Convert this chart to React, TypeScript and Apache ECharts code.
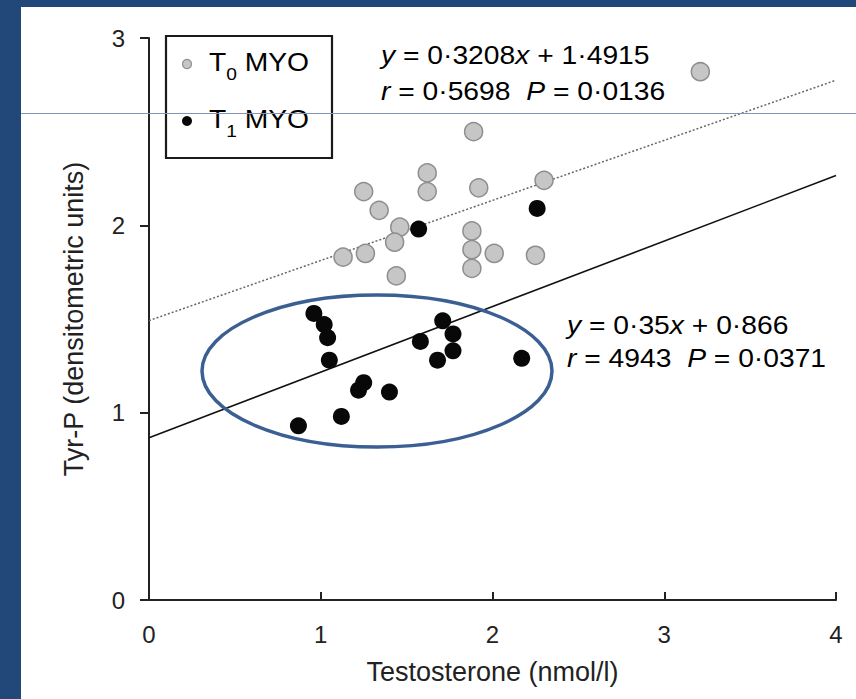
import React, { useEffect, useRef } from "react";
import * as echarts from "echarts";

// T0 MYO (grey) points
const t0X = [1.25, 1.62, 1.62, 1.92, 2.30, 1.34, 1.46, 1.43, 1.13, 1.26, 1.44, 1.88, 1.88, 2.01, 1.88, 2.25, 1.89, 3.21];
const t0Y = [2.18, 2.28, 2.18, 2.20, 2.24, 2.08, 1.99, 1.91, 1.83, 1.85, 1.73, 1.97, 1.87, 1.85, 1.77, 1.84, 2.50, 2.82];
// T1 MYO (black) points
const t1X = [1.57, 2.26, 0.96, 1.02, 1.04, 1.05, 1.71, 1.77, 1.77, 1.58, 1.68, 2.17, 1.25, 1.22, 1.40, 1.12, 0.87];
const t1Y = [1.98, 2.09, 1.53, 1.47, 1.40, 1.28, 1.49, 1.42, 1.33, 1.38, 1.28, 1.29, 1.16, 1.12, 1.11, 0.98, 0.93];
// regression fits
const fitSlopes = [0.3208, 0.35];
const fitIntercepts = [1.4915, 0.866];
const fitRange = [0, 4];
const xTicks = [0, 1, 2, 3, 4];
const yTicks = [0, 1, 2, 3];

const FONT = "Liberation Sans, Arial, sans-serif";
const BLUE = "#214878";

export default function App() {
  const ref = useRef<HTMLDivElement>(null);
  useEffect(() => {
    if (!ref.current) return;
    const chart = echarts.init(ref.current, undefined, { renderer: "svg" });
    const fitLine = (i: number) => fitRange.map((x) => [x, fitSlopes[i] * x + fitIntercepts[i]]);
    const rich = {
      n: { fontFamily: FONT, fontSize: 25, color: "#222" },
      i: { fontFamily: FONT, fontSize: 25, fontStyle: "italic", color: "#222" },
      s: { fontFamily: FONT, fontSize: 17, color: "#222", padding: [22, 0, 0, 0] },
    };
    const ann = (x: number, y: number, text: string) => ({
      type: "text", x, y, z: 51, scaleX: 1.13,
      style: { text, rich, verticalAlign: "middle", align: "left" },
    });
    chart.setOption({
      animation: false,
      backgroundColor: "#ffffff",
      grid: { left: 149, right: 20, top: 38, bottom: 99 },
      xAxis: {
        type: "value",
        min: xTicks[0],
        max: xTicks[xTicks.length - 1],
        interval: 1,
        name: "Testosterone (nmol/l)",
        nameLocation: "middle",
        nameGap: 58,
        nameTextStyle: { fontFamily: FONT, fontSize: 27, color: "#222" },
        axisLine: { show: true, onZero: false, lineStyle: { color: "#222", width: 2 } },
        axisTick: { show: true, inside: true, length: 8, lineStyle: { color: "#222", width: 2 } },
        axisLabel: { fontFamily: FONT, fontSize: 24, color: "#222", margin: 22 },
        splitLine: { show: false },
      },
      yAxis: {
        type: "value",
        min: yTicks[0],
        max: yTicks[yTicks.length - 1],
        interval: 1,
        name: "Tyr-P (densitometric units)",
        nameLocation: "middle",
        nameGap: 62,
        nameTextStyle: { fontFamily: FONT, fontSize: 27, color: "#222" },
        axisLine: { show: true, lineStyle: { color: "#222", width: 2 } },
        axisTick: { show: true, inside: false, length: 9, lineStyle: { color: "#222", width: 2 } },
        axisLabel: { fontFamily: FONT, fontSize: 24, color: "#222", margin: 24 },
        splitLine: { show: false },
      },
      series: [
        {
          type: "line",
          data: fitLine(0),
          symbol: "none",
          lineStyle: { color: "#666", width: 1.5, type: [2, 2] },
          z: 1,
        },
        {
          type: "line",
          data: fitLine(1),
          symbol: "none",
          lineStyle: { color: "#111", width: 1.6 },
          z: 1,
        },
        {
          name: "T0 MYO",
          type: "scatter",
          data: t0X.map((x, i) => [x, t0Y[i]]),
          symbolSize: 18,
          itemStyle: { color: "#c6c6c6", borderColor: "#8e8e8e", borderWidth: 1.5, opacity: 1 },
          z: 3,
        },
        {
          name: "T1 MYO",
          type: "scatter",
          data: t1X.map((x, i) => [x, t1Y[i]]),
          symbolSize: 17,
          itemStyle: { color: "#080808", opacity: 1 },
          z: 4,
        },
      ],
      graphic: [
        { type: "rect", shape: { x: 0, y: 0, width: 856, height: 7 }, style: { fill: BLUE }, z: 100 },
        { type: "rect", shape: { x: 0, y: 0, width: 21, height: 699 }, style: { fill: BLUE }, z: 100 },
        // legend box
        { type: "rect", shape: { x: 166, y: 36, width: 166, height: 122 }, style: { fill: "#fff", stroke: "#1a1a1a", lineWidth: 2.2 }, z: 50 },
        { type: "circle", shape: { cx: 187, cy: 64, r: 4.5 }, style: { fill: "#c6c6c6", stroke: "#8e8e8e", lineWidth: 1.2 }, z: 51 },
        { type: "circle", shape: { cx: 187, cy: 121, r: 5 }, style: { fill: "#080808" }, z: 51 },
        ann(209, 63, "{n|T}{s|0}{n| MYO}"),
        ann(209, 120, "{n|T}{s|1}{n| MYO}"),
        // annotations
        ann(381, 56, "{i|y}{n| = 0·3208}{i|x}{n| + 1·4915}"),
        ann(381, 92, "{i|r}{n| = 0·5698  }{i|P}{n| = 0·0136}"),
        ann(567, 326, "{i|y}{n| = 0·35}{i|x}{n| + 0·866}"),
        ann(567, 359, "{i|r}{n| = 4943  }{i|P}{n| = 0·0371}"),
        // highlight ellipse
        {
          type: "ellipse", shape: { cx: 377, cy: 371, rx: 175, ry: 76 },
          style: { fill: "none", stroke: "#3b5f93", lineWidth: 3.5 }, z: 60,
        },
        // thin scan artefact line
        {
          type: "line", shape: { x1: 21, y1: 113.5, x2: 856, y2: 113.5 },
          style: { stroke: "#8296b6", lineWidth: 1 }, z: 90,
        },
      ],
    });
    return () => chart.dispose();
  }, []);
  return (
    <div style={{ position: "fixed", left: 0, top: 0, width: 856, height: 699, background: "#fff" }}>
      <div ref={ref} style={{ width: 856, height: 699 }} />
    </div>
  );
}
